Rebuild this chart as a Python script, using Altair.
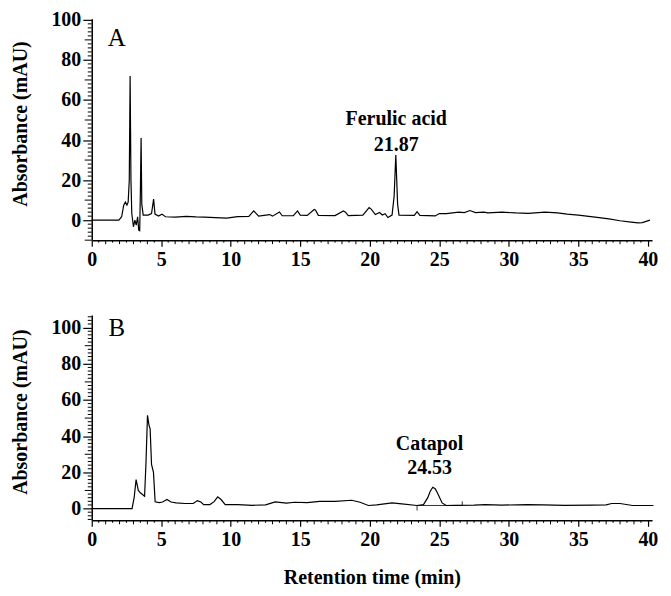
import altair as alt
import pandas as pd

# ---- data: chromatogram A (time in min, absorbance in mAU) ----
a_time = [0, 1.95, 2.15, 2.3, 2.42, 2.53, 2.62, 2.7, 2.76, 2.82, 2.88, 3.0, 3.1, 3.2, 3.3, 3.38, 3.45,
          3.5, 3.55, 3.6, 3.7, 4.05, 4.3, 4.45, 4.55, 4.8, 5.05, 5.3, 6.0, 6.8, 7.5, 8.1, 8.9, 9.7,
          10.5, 11.3, 11.65, 11.8, 12.0, 12.8, 13.0, 13.5, 13.7, 14.5, 14.8, 15.0, 15.5, 16.0, 16.1,
          16.3, 17.5, 18.1, 18.25, 18.45, 19.5, 19.95, 20.1, 20.4, 20.7, 20.9, 21.1, 21.3, 21.6, 21.75,
          21.87, 22.0, 22.1, 23.2, 23.4, 23.6, 24.7, 25.0, 25.5, 26.4, 26.8, 27.2, 27.6, 28.2, 28.5,
          29.5, 30.5, 31.4, 32.6, 33.5, 34.2, 35.0, 36.2, 37.2, 38.0, 38.8, 39.3, 39.6, 40.15]
a_val = [0, 0, 1.7, 7.5, 9, 7.5, 9, 20, 72, 20, 3.3, -3.3, 0, -2.5, 1.7, -5, -5.3,
         15, 41, 8, 2.5, 2.5, 3.3, 10.5, 3.0, 2.0, 3.0, 1.7, 1.5, 1.9, 1.6, 1.5, 1.3, 1.0,
         1.8, 1.9, 4.6, 3.5, 2.0, 2.8, 2.0, 4.1, 2.2, 2.3, 4.6, 2.5, 2.4, 5.3, 5.0,
         2.4, 2.3, 4.6, 4.0, 2.3, 2.5, 6.3, 5.5, 2.8, 3.8, 2.6, 3.2, 1.3, 2.5, 12,
         32.5, 8, 2.5, 2.4, 4.2, 2.4, 2.1, 3.3, 3.3, 4.0, 3.8, 4.8, 3.8, 4.0, 3.6,
         4.0, 3.6, 3.4, 4.0, 3.6, 3.0, 2.5, 1.5, 0.6, -0.3, -1.0, -1.4, -1.2, 0]

# ---- data: chromatogram B ----
b_time = [0, 2.9, 3.05, 3.19, 3.35, 3.5, 3.8, 3.9, 4.01, 4.12, 4.2, 4.3, 4.44, 4.56, 4.85, 5.1,
          5.41, 5.7, 6.08, 6.7, 7.3, 7.6, 7.85, 8.05, 8.5, 8.8, 9.06, 9.3, 9.6, 10.5, 11.55, 12.5,
          13.2, 14.0, 14.6, 15.5, 16.4, 17.5, 18.7, 19.3, 19.9, 20.5, 21.6, 22.3, 23.4, 23.86, 24.16,
          24.35, 24.53, 24.7, 24.86, 25.2, 25.5, 26.2, 27.5, 28.3, 29.5, 31.3, 32.5, 34.0, 36.0,
          37.0, 37.4, 38.0, 38.9, 40.4]
b_val = [0, 0, 6, 16, 10, 8.7, 6.8, 25, 51.5, 46, 44, 24.4, 20, 3.7, 3.3, 3.6,
         5.0, 3.6, 3.1, 2.8, 2.8, 4.4, 3.6, 2.2, 2.2, 3.8, 6.5, 5.0, 2.2, 2.2, 1.8, 2.0,
         3.7, 3.0, 3.5, 3.3, 4.0, 4.0, 4.6, 3.5, 1.7, 2.0, 3.1, 2.6, 1.7, 2.2, 5.9,
         9.6, 11.8, 11.0, 8.7, 3.1, 1.7, 1.8, 1.9, 2.2, 1.9, 2.2, 2.0, 1.8, 1.9,
         2.0, 2.8, 2.8, 1.7, 1.7]

# integration baseline drawn under the Catapol peak (segments: t, v, t2, v2)
base_t = [23.4, 23.4, 26.65]
base_v = [1.7, -1.1, 1.7]
base_t2 = [26.65, 23.4, 26.65]
base_v2 = [1.7, 1.7, 4.0]

# ---- labels ----
x_ticks = [0, 5, 10, 15, 20, 25, 30, 35, 40]
y_ticks = [0, 20, 40, 60, 80, 100]
x_minor1 = [t for t in range(0, 41) if t % 5 != 0]
x_minor05 = [t + 0.5 for t in range(0, 40)]

FONT = "Liberation Serif"
W = 562
X_DOM = [0, 40.3]


def panel(tt, vv, ydom, h, letter, letter_pos, ann_text, ann_t, ann_v, xtitle, base=None):
    xs = alt.Scale(domain=X_DOM, nice=False, zero=False)
    ys = alt.Scale(domain=ydom, nice=False, zero=False)
    df = pd.DataFrame({"t": tt, "v": vv})
    xaxis = alt.Axis(values=x_ticks, tickSize=6, labelPadding=3, format="d",
                     title=xtitle, titlePadding=18)
    yaxis = alt.Axis(values=y_ticks, tickSize=9, labelPadding=2, format="d",
                     title="Absorbance (mAU)", titleX=-71, titleBaseline="middle",
                     titleY=h / 2 - 6)
    line = alt.Chart(df).mark_line(color="black", strokeWidth=1.2).encode(
        x=alt.X("t:Q", scale=xs, axis=xaxis),
        y=alt.Y("v:Q", scale=ys, axis=yaxis),
    )
    layers = [line]
    # minor x ticks
    m1 = alt.Chart(pd.DataFrame({"t": x_minor1})).mark_rule(color="black", strokeWidth=1).encode(
        x=alt.X("t:Q", scale=xs), y=alt.value(h), y2=alt.value(h + 4))
    m05 = alt.Chart(pd.DataFrame({"t": x_minor05})).mark_rule(color="black", strokeWidth=1).encode(
        x=alt.X("t:Q", scale=xs), y=alt.value(h), y2=alt.value(h + 2.5))
    lo = int(ydom[0]) // 2 * 2
    y_minor2 = [v for v in range(lo, int(ydom[1]) + 1, 2) if v % 10 != 0 and ydom[0] <= v <= ydom[1]]
    y_minor10 = [v for v in range(-10, int(ydom[1]) + 1, 10) if v % 20 != 0 and ydom[0] <= v <= ydom[1]]
    ym2 = alt.Chart(pd.DataFrame({"v": y_minor2})).mark_rule(color="black", strokeWidth=1).encode(
        y=alt.Y("v:Q", scale=ys), x=alt.value(0), x2=alt.value(-4))
    ym10 = alt.Chart(pd.DataFrame({"v": y_minor10})).mark_rule(color="black", strokeWidth=1).encode(
        y=alt.Y("v:Q", scale=ys), x=alt.value(0), x2=alt.value(-7))
    layers += [m1, m05, ym2, ym10]
    if base is not None:
        bdf = pd.DataFrame({"t": base[0], "v": base[1], "t2": base[2], "v2": base[3]})
        layers.append(alt.Chart(bdf).mark_rule(color="black", strokeWidth=0.8).encode(
            x=alt.X("t:Q", scale=xs), y=alt.Y("v:Q", scale=ys), x2="t2:Q", y2="v2:Q"))
    let = alt.Chart(pd.DataFrame({"t": [letter_pos[0]], "v": [letter_pos[1]], "s": [letter]})).mark_text(
        font=FONT, fontSize=25, fontWeight="normal", color="black").encode(
        x=alt.X("t:Q", scale=xs), y=alt.Y("v:Q", scale=ys), text="s:N")
    ann = alt.Chart(pd.DataFrame({"t": ann_t, "v": ann_v, "s": ann_text})).mark_text(
        font=FONT, fontSize=20, fontWeight="bold", color="black").encode(
        x=alt.X("t:Q", scale=xs), y=alt.Y("v:Q", scale=ys), text="s:N")
    layers += [let, ann]
    return alt.layer(*layers).properties(width=W, height=h)


chart_a = panel(a_time, a_val, [-10, 100.5], 222, "A", (1.8, 91),
                ["Ferulic acid", "21.87"], [21.9, 21.9], [50.5, 37.5], None)
chart_b = panel(b_time, b_val, [-6.5, 107], 206, "B", (1.8, 99.6),
                ["Catapol", "24.53"], [24.3, 24.3], [35.8, 22.5], "Retention time (min)",
                base=(base_t, base_v, base_t2, base_v2))

chart = alt.vconcat(chart_a, chart_b, spacing=46).properties(
    padding={"left": 2, "top": 1, "right": 5, "bottom": 0}
).configure_view(stroke=None).configure_axis(
    labelFont=FONT, labelFontSize=20, labelFontWeight="bold", labelColor="black",
    titleFont=FONT, titleFontSize=20, titleFontWeight="bold", titleColor="black",
    domainColor="black", domainWidth=1.5, tickColor="black", tickWidth=1.2, grid=False,
    labelFlush=False,
)

chart.save("out.html", embed_options={"renderer": "svg", "actions": False})
